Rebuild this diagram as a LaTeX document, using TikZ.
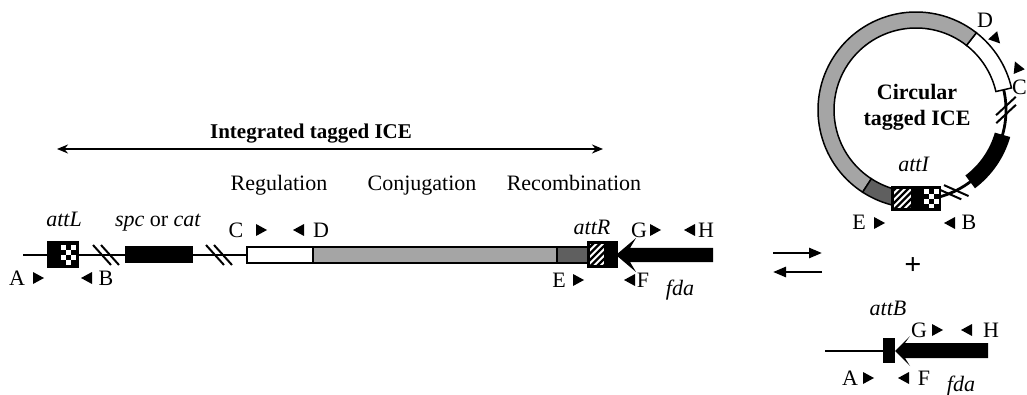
\documentclass[tikz,border=0pt]{standalone}
\usepackage{fontspec}
\setmainfont{Liberation Serif}
\usetikzlibrary{arrows.meta}
\definecolor{midgray}{RGB}{165,165,165}
\definecolor{darkgr}{RGB}{95,95,95}
\begin{document}
\begin{tikzpicture}[x=1pt,y=-1pt,
  lbl/.style={anchor=base,inner sep=0pt,font=\fontsize{22}{24}\selectfont},
  ttl/.style={anchor=base,inner sep=0pt,font=\fontsize{21}{24}\selectfont\bfseries},
  dnaline/.style={line width=2.8pt},
  seg/.style={draw=black,line width=1.5pt},
  trir/.pic={\fill (6,0)--(-5,-6)--(-5,6)--cycle;},
  hashm/.pic={\draw[line width=2pt] (-13,-10)--(5,10) (-5,-10)--(13,10);},
  arr/.style={line width=2.6pt}
]
\useasboundingbox (0,0) rectangle (1027,395);
\fill[white] (0,0) rectangle (1027,395);

% ---------- title ----------
\node[ttl] (title) at (311,139) {Integrated tagged ICE};
\coordinate (ial) at (57,149);
\coordinate (iar) at (603,149);
\draw[arr,{Stealth[length=11pt,width=9pt]}-{Stealth[length=11pt,width=9pt]}] (ial) -- (iar);

% ---------- linear map ----------
\coordinate (l0) at (23,255);
\coordinate (l1) at (247,255);
\draw[dnaline] (l0) -- (l1);
% attL
\draw[fill=black,line width=1.2pt] (48,242) rectangle (78,267);
\foreach \cx/\cy in {0/0,2/0,1/1,0/2,2/2,1/3}
  \fill[white] (61+5*\cx,245+5*\cy) rectangle +(5,5);
% spc
\fill (125,246) rectangle (193,263);
\pic at (106,255) {hashm};
\pic at (219,255) {hashm};
% modules
\draw[seg,fill=white] (247,247) rectangle (313,263);
\draw[seg,fill=midgray] (313,247) rectangle (557,263);
\draw[seg,fill=darkgr] (557,247) rectangle (588,263);
% attR
\draw[fill=black,line width=1.2pt] (588,242) rectangle (617,267);
\begin{scope}
  \clip (590,244) rectangle (604,265);
  \fill[white] (590,244) rectangle (604,265);
  \foreach \k in {-3,...,4}
    \draw[line width=2.4pt] (590+6.5*\k-8,268) -- ++(28,-28);
\end{scope}
% fda arrow
\fill (616,255) -- (636,238) -- (630,248) -- (713,248) -- (713,262) -- (630,262) -- (636,272) -- cycle;

% labels
\node[lbl] (attL) at (64,227) {\textit{attL}};
\node[lbl] (spc) at (158,227) {\textit{spc} or \textit{cat}};
\node[lbl] (reg) at (279,191) {Regulation};
\node[lbl] (conj) at (422,191) {Conjugation};
\node[lbl] (rec) at (574,191) {Recombination};
\node[lbl] (attR) at (592,235) {\textit{attR}};
\node[lbl] (fda) at (680,295) {\textit{fda}};

\node[lbl] (C) at (236,237) {C};  \pic at (261,230) {trir};
\pic[rotate=180] at (299,230) {trir}; \node[lbl] (D) at (321,237) {D};
\node[lbl] (G) at (639,237) {G};  \pic at (655,230) {trir};
\pic[rotate=180] at (690,230) {trir}; \node[lbl] (H) at (706,237) {H};
\node[lbl] (A) at (17,285) {A}; \pic at (38,278) {trir};
\pic[rotate=180] at (87,278) {trir}; \node[lbl] (B) at (106,285) {B};
\node[lbl] (E) at (559,287) {E};  \pic at (578,280) {trir};
\pic[rotate=180] at (630,280) {trir}; \node[lbl] (F) at (643,287) {F};

% ---------- reversible arrows ----------
\coordinate (ra1) at (773,253); \coordinate (ra2) at (822,253);
\coordinate (rb1) at (822,272); \coordinate (rb2) at (773,272);
\draw[arr,-{Triangle[length=13pt,width=10pt]}] (ra1) -- (ra2);
\draw[arr,-{Triangle[length=13pt,width=10pt]}] (rb1) -- (rb2);
\node[inner sep=0pt,font=\fontsize{30}{30}\selectfont\bfseries] (plus) at (913,266) {+};

% ---------- circular ICE ----------
\begin{scope}[shift={(916,110)},yscale=-1]
  \draw[dnaline] (280:90) arc[start angle=280,end angle=375,radius=90];
  \fill (-53:82) arc[start angle=-53,end angle=-16,radius=82] -- (-16:98) arc[start angle=-16,end angle=-53,radius=98] -- cycle;
  \draw[seg,fill=white] (13:82) arc[start angle=13,end angle=52,radius=82] -- (52:98) arc[start angle=52,end angle=13,radius=98] -- cycle;
  \draw[seg,fill=midgray] (52:82) arc[start angle=52,end angle=237,radius=82] -- (237:98) arc[start angle=237,end angle=52,radius=98] -- cycle;
  \draw[seg,fill=darkgr] (237:82) arc[start angle=237,end angle=258,radius=82] -- (258:98) arc[start angle=258,end angle=237,radius=98] -- cycle;
  \pic[rotate=91] at (0:90) {hashm};
  \pic[rotate=24] at (294:90) {hashm};
  \pic[rotate=113] at (23:110) {trir};
  \pic[rotate=-48] at (41.6:107) {trir};
\end{scope}
% attI box
\draw[fill=black,line width=1.2pt] (892,187) rectangle (940,210);
\begin{scope}
  \clip (894,189) rectangle (911,208);
  \fill[white] (894,189) rectangle (911,208);
  \foreach \k in {-3,...,4}
    \draw[line width=2.4pt] (894+6.5*\k-8,211) -- ++(25,-25);
\end{scope}
\foreach \cx/\cy in {0/0,2/0,1/1,0/2,2/2,1/3}
  \fill[white] (924+5*\cx,189.5+4.75*\cy) rectangle +(5,4.75);

\node[ttl,font=\fontsize{22}{24}\selectfont\bfseries] (circ1) at (917,100) {Circular};
\node[ttl,font=\fontsize{22}{24}\selectfont\bfseries] (circ2) at (917,126) {tagged ICE};
\node[lbl] (attI) at (914,172) {\textit{attI}};
\node[lbl] (Ec) at (859,230) {E}; \pic at (879,223) {trir};
\pic[rotate=180] at (950,223) {trir}; \node[lbl] (Bc) at (969,230) {B};
\node[lbl] (Dc) at (985,28) {D};
\node[lbl] (Cc) at (1019.5,95) {C};

% ---------- attB ----------
\node[lbl] (attB) at (888,315) {\textit{attB}};
\coordinate (b0) at (825,351); \coordinate (b1) at (884,351);
\draw[dnaline] (b0) -- (b1);
\fill (883,338) rectangle (895,363);
\fill (895,351) -- (910,336) -- (905,343) -- (988,343) -- (988,358) -- (905,358) -- (910,366) -- cycle;
\node[lbl] (G2) at (919,337) {G}; \pic at (937,330) {trir};
\pic[rotate=180] at (967,330) {trir}; \node[lbl] (H2) at (991,337) {H};
\node[lbl] (A2) at (850,385) {A}; \pic at (868,378) {trir};
\pic[rotate=180] at (904,378) {trir}; \node[lbl] (F2) at (924,385) {F};
\node[lbl] (fda2) at (961,391) {\textit{fda}};
\end{tikzpicture}
\end{document}
